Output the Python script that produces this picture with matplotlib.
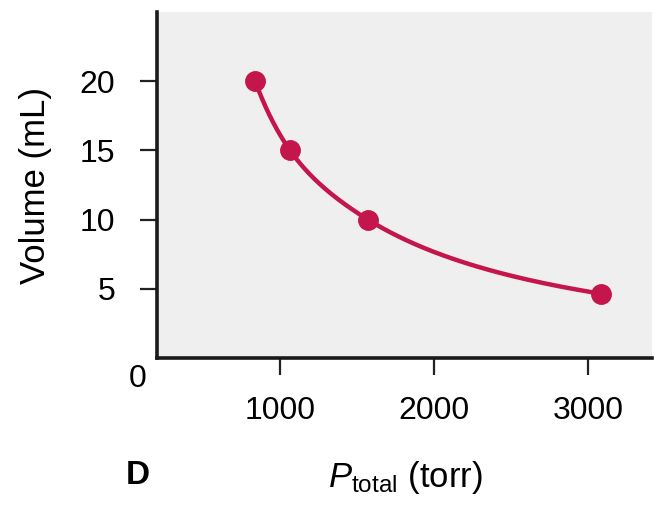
import numpy as np
import matplotlib
matplotlib.use("Agg")
import matplotlib.pyplot as plt

# Data
pressure = [838, 1065, 1571, 3084]      # P_total (torr)
volume = [20.0, 15.0, 10.0, 4.65]       # Volume (mL)
xticks = [1000, 2000, 3000]
yticks = [5, 10, 15, 20]

plt.rcParams['font.family'] = ['Liberation Sans', 'DejaVu Sans']
plt.rcParams['mathtext.fontset'] = 'custom'
plt.rcParams['mathtext.rm'] = 'Liberation Sans'
plt.rcParams['mathtext.it'] = 'Liberation Sans:italic'

RED = '#C4164C'
BG = '#EFEFEF'


def pchip(x, y, xs):
    x = np.asarray(x, float); y = np.asarray(y, float)
    h = np.diff(x); d = np.diff(y) / h
    n = len(x); m = np.zeros(n)
    for k in range(1, n - 1):
        if d[k - 1] * d[k] > 0:
            w1 = 2 * h[k] + h[k - 1]; w2 = h[k] + 2 * h[k - 1]
            m[k] = (w1 + w2) / (w1 / d[k - 1] + w2 / d[k])
    m[0] = ((2 * h[0] + h[1]) * d[0] - h[0] * d[1]) / (h[0] + h[1])
    m[-1] = ((2 * h[-1] + h[-2]) * d[-1] - h[-1] * d[-2]) / (h[-1] + h[-2])
    out = np.empty_like(xs)
    for i, xv in enumerate(xs):
        k = min(np.searchsorted(x, xv) - 1, n - 2); k = max(k, 0)
        t = (xv - x[k]) / h[k]
        h00 = 2 * t**3 - 3 * t**2 + 1; h10 = t**3 - 2 * t**2 + t
        h01 = -2 * t**3 + 3 * t**2; h11 = t**3 - t**2
        out[i] = h00 * y[k] + h10 * h[k] * m[k] + h01 * y[k + 1] + h11 * h[k] * m[k + 1]
    return out


fig = plt.figure(figsize=(6.54, 5.05), dpi=100)
ax = fig.add_axes([0.240, 0.291, 0.757, 0.685])
ax.set_facecolor(BG)

# smooth curve through the points (interpolated in log-log space)
lp = np.log(pressure); lv = np.log(volume)
lxs = np.linspace(lp[0], lp[-1], 400)
ax.plot(np.exp(lxs), np.exp(pchip(lp, lv, lxs)), color=RED, lw=3.2, zorder=2)
ax.plot(pressure, volume, 'o', color=RED, ms=14, zorder=3)

ax.set_xlim(200, 3416)
ax.set_ylim(0, 25)
ax.set_xticks(xticks)
ax.set_yticks(yticks)
ax.tick_params(axis='both', length=12, width=1.6, labelsize=23, color='#222222')
ax.tick_params(axis='y', pad=18)
ax.tick_params(axis='x', pad=15)
for s in ['top', 'right']:
    ax.spines[s].set_visible(False)
for s in ['left', 'bottom']:
    ax.spines[s].set_linewidth(2.6)
    ax.spines[s].set_color('#1a1a1a')

ax.set_ylabel('Volume (mL)', fontsize=25, labelpad=20)
fig.text(138 / 654, 1 - 379 / 505, '0', fontsize=23, ha='center', va='center')
fig.text(138 / 654, 1 - 476 / 505, 'D', fontsize=24, fontweight='bold', ha='center', va='center')
fig.text(405 / 654, 1 - 477 / 505, r'$\mathit{P}_{\mathrm{total}}$ (torr)', fontsize=25,
         ha='center', va='center')

fig.savefig('out.png', dpi=100)
